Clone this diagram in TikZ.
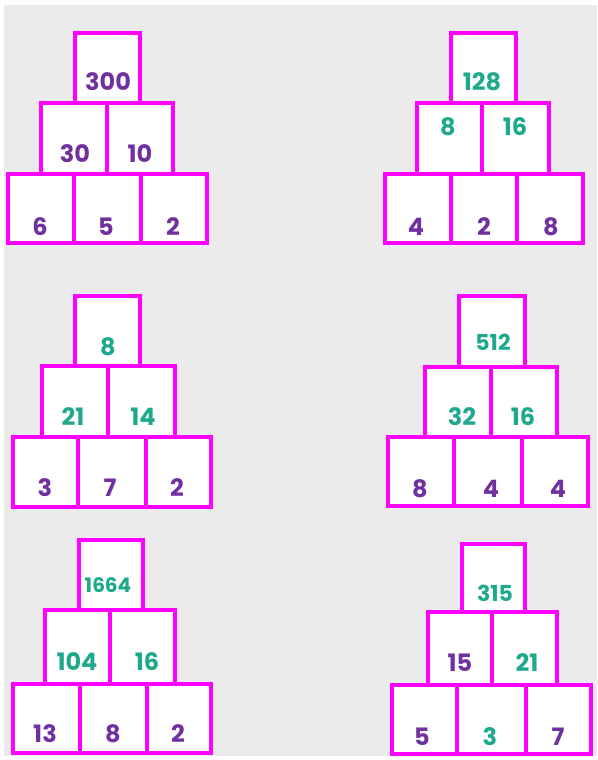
\documentclass[tikz,border=0pt]{standalone}
\usepackage{fontspec}
\setmainfont{Poppins}
\definecolor{mag}{HTML}{FF00FF}
\definecolor{pur}{HTML}{7030A0}
\definecolor{tea}{HTML}{1FA98C}
\definecolor{bgg}{HTML}{EBEBEB}
\newcommand{\bx}[5]{%
  \pgfmathsetmacro{\bxcx}{(#2+#4)/2}\pgfmathsetmacro{\bxcy}{(#3+#5)/2}%
  \pgfmathsetmacro{\bxw}{#4-#2}\pgfmathsetmacro{\bxh}{#5-#3}%
  \node[box, minimum width=\bxw pt, minimum height=\bxh pt] (#1) at (\bxcx,\bxcy) {};}
\newcommand{\nm}[5]{\node[num, text=#4] (#1) at (#2,#3) {#5};}
\begin{document}
\begin{tikzpicture}[x=1pt,y=-1pt,
  box/.style={rectangle, draw=mag, fill=white, line width=4pt, inner sep=0pt, outer sep=0pt},
  num/.style={inner sep=0pt, font=\fontsize{24}{24}\selectfont\bfseries},
  numsm/.style={font=\fontsize{22}{22}\selectfont\bfseries},
  numxs/.style={font=\fontsize{20}{20}\selectfont\bfseries}]
\useasboundingbox (0,0) rectangle (597,760);
\fill[bgg] (4,5) rectangle (597,756);
% pyramid 1
\bx{a0}{75}{33}{140}{102.5}
\bx{a1}{41}{102.5}{107}{173.5}
\bx{a2}{107}{102.5}{173}{173.5}
\bx{a3}{8}{173.5}{74}{243}
\bx{a4}{74}{173.5}{141}{243}
\bx{a5}{141}{173.5}{207}{243}
% pyramid 2
\bx{b0}{451.3}{32.7}{516.3}{102.5}
\bx{b1}{417}{102.5}{482.2}{173.5}
\bx{b2}{482.2}{102.5}{548.7}{173.5}
\bx{b3}{385.3}{173.5}{450.7}{243}
\bx{b4}{450.7}{173.5}{517.3}{243}
\bx{b5}{517.3}{173.5}{583}{243}
% pyramid 3
\bx{c0}{75.3}{296}{139.7}{366.2}
\bx{c1}{42}{366.2}{108.3}{437.2}
\bx{c2}{108.3}{366.2}{175.3}{437.2}
\bx{c3}{13}{437.2}{78.3}{507.3}
\bx{c4}{78.3}{437.2}{145.7}{507.3}
\bx{c5}{145.7}{437.2}{210.7}{507.3}
% pyramid 4
\bx{d0}{459.3}{296}{524.7}{366.5}
\bx{d1}{425.3}{366.5}{491}{437.2}
\bx{d2}{491}{366.5}{557}{437.2}
\bx{d3}{388}{437.2}{454}{506.3}
\bx{d4}{454}{437.2}{521.7}{506.3}
\bx{d5}{521.7}{437.2}{588}{506.3}
% pyramid 5
\bx{e0}{78.7}{540.3}{143}{610}
\bx{e1}{45.3}{610}{110}{683.8}
\bx{e2}{110}{610}{175.3}{683.8}
\bx{e3}{13}{683.8}{80}{753}
\bx{e4}{80}{683.8}{146.7}{753}
\bx{e5}{146.7}{683.8}{211.3}{753}
% pyramid 6
\bx{f0}{462}{543.7}{524.7}{612.2}
\bx{f1}{428}{612.2}{491.7}{684.5}
\bx{f2}{491.7}{612.2}{557}{684.5}
\bx{f3}{392}{684.5}{457.3}{753.5}
\bx{f4}{457.3}{684.5}{525.7}{753.5}
\bx{f5}{525.7}{684.5}{591.3}{753.5}
% numbers
\nm{ta0}{108}{82}{pur}{300}
\nm{ta1}{75}{154}{pur}{30}
\nm{ta2}{140}{154}{pur}{10}
\nm{ta3}{40}{227}{pur}{6}
\nm{ta4}{106}{227}{pur}{5}
\nm{ta5}{173}{227}{pur}{2}
\nm{tb0}{482}{82}{tea}{128}
\nm{tb1}{448}{127}{tea}{8}
\nm{tb2}{515}{127}{tea}{16}
\nm{tb3}{416}{227}{pur}{4}
\nm{tb4}{484}{227}{pur}{2}
\nm{tb5}{551}{227}{pur}{8}
\nm{tc0}{108}{347}{tea}{8}
\nm{tc1}{73}{417}{tea}{21}
\nm{tc2}{143}{417}{tea}{14}
\nm{tc3}{45}{488}{pur}{3}
\nm{tc4}{110}{488}{pur}{7}
\nm{tc5}{177}{488}{pur}{2}
\node[num, numsm, text=tea] (td0) at (493,342) {512};
\nm{td1}{462}{417}{tea}{32}
\nm{td2}{523}{417}{tea}{16}
\nm{td3}{420}{489}{pur}{8}
\nm{td4}{491}{489}{pur}{4}
\nm{td5}{558}{489}{pur}{4}
\node[num, numxs, text=tea] (te0) at (108,585) {1664};
\nm{te1}{77}{662}{tea}{104}
\nm{te2}{147}{662}{tea}{16}
\nm{te3}{45}{734}{pur}{13}
\nm{te4}{113}{734}{pur}{8}
\nm{te5}{178}{734}{pur}{2}
\node[num, numsm, text=tea] (tf0) at (495,593) {315};
\nm{tf1}{460}{663}{pur}{15}
\nm{tf2}{527}{663}{tea}{21}
\nm{tf3}{422}{737}{pur}{5}
\nm{tf4}{490}{737}{tea}{3}
\nm{tf5}{558}{737}{pur}{7}
\end{tikzpicture}
\end{document}
